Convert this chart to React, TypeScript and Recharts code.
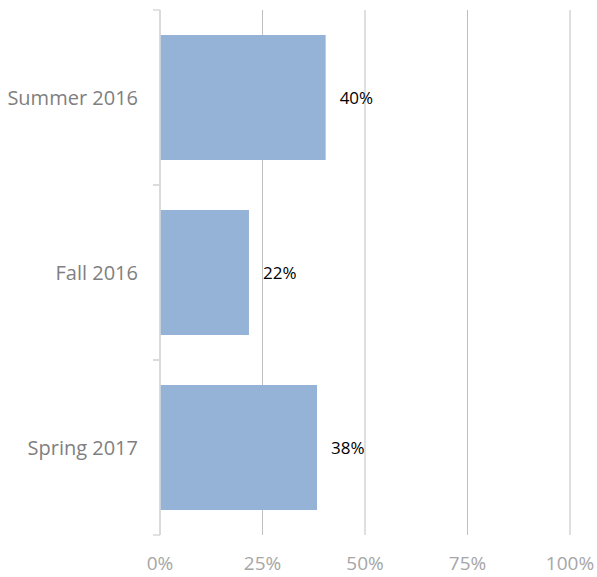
import React from 'react';
import { BarChart, Bar, XAxis, YAxis, CartesianGrid, LabelList } from 'recharts';

const categories = ['Summer 2016', 'Fall 2016', 'Spring 2017'];
const shares = [40.4, 21.7, 38.3];
const shareLabels = ['40%', '22%', '38%'];
const xTicks = [0, 25, 50, 75, 100];

const data = categories.map((name, i) => ({ name, value: shares[i], label: shareLabels[i] }));

const W = 597;
const H = 577;
const MARGIN = { top: 10, right: 27, left: 0, bottom: 0 };
const X_AXIS_H = 42;
const Y_AXIS_W = 160;
const Y_TICK_MARGIN = 22;
const FONT = '"Open Sans", sans-serif';

const CategoryTick = (props: any) => {
  const { x, y, payload } = props;
  const band = (H - MARGIN.top - MARGIN.bottom - X_AXIS_H) / categories.length;
  const axisX = x + Y_TICK_MARGIN;
  return (
    <g>
      <line x1={axisX - 7} x2={axisX} y1={y - band / 2} y2={y - band / 2} stroke="#d9d9d9" strokeWidth={1.5} />
      <line x1={axisX - 7} x2={axisX} y1={y + band / 2} y2={y + band / 2} stroke="#d9d9d9" strokeWidth={1.5} />
      <text x={x} y={y} dy="0.36em" textAnchor="end" fill="#7f7f7f" fontSize={20} fontFamily={FONT}>
        {payload.value}
      </text>
    </g>
  );
};

export default function App() {
  return (
    <div style={{ position: 'absolute', left: 0, top: 0, width: W, height: H, background: '#fff' }}>
      <BarChart width={W} height={H} data={data} layout="vertical" margin={MARGIN} barCategoryGap={25}>
        <CartesianGrid horizontal={false} stroke="#bfbfbf" />
        <XAxis
          type="number"
          domain={[0, 100]}
          ticks={xTicks}
          tickFormatter={(v: number) => `${v}%`}
          axisLine={false}
          tickLine={false}
          tickSize={0}
          tickMargin={22}
          height={X_AXIS_H}
          tick={{ fill: '#a6a6a6', fontSize: 19, fontFamily: FONT }}
          interval={0}
        />
        <YAxis
          type="category"
          dataKey="name"
          width={Y_AXIS_W}
          axisLine={{ stroke: '#d9d9d9', strokeWidth: 1.5 }}
          tickLine={false}
          tickSize={0}
          tickMargin={Y_TICK_MARGIN}
          tick={<CategoryTick />}
          interval={0}
        />
        <Bar dataKey="value" fill="#95b3d7" isAnimationActive={false}>
          <LabelList
            dataKey="label"
            position="right"
            offset={14}
            fill="#000"
            fontSize={17}
            fontFamily={FONT}
          />
        </Bar>
      </BarChart>
    </div>
  );
}
